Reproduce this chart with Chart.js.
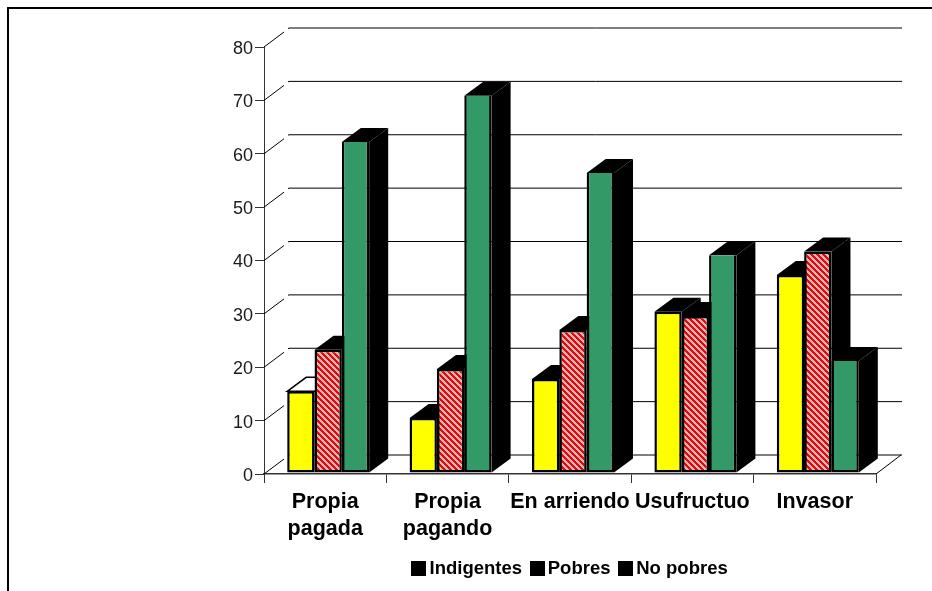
<!DOCTYPE html>
<html><head><meta charset="utf-8">
<style>html,body{margin:0;padding:0;background:#fff}canvas{display:block}</style>
<script src="https://cdn.jsdelivr.net/npm/chart.js@4"></script></head>
<body><canvas id="c" width="932" height="591" style="width:932px;height:591px"></canvas>
<script>
const categories = [["Propia","pagada"],["Propia","pagando"],"En arriendo","Usufructuo","Invasor"];
const indigentes = [15.3,10.3,17.6,30.2,37.1];
const pobres = [23.1,19.5,26.8,29.4,41.5];
const noPobres = [62,70.7,56.2,40.8,21];
const seriesNames = ["Indigentes","Pobres","No pobres"];

function hatch(){
  const s=document.createElement('canvas');s.width=6;s.height=6;
  const g=s.getContext('2d');
  g.fillStyle='#c0c0c0';g.fillRect(0,0,6,6);
  g.fillStyle='#ff0000';
  for(let y=0;y<6;y++){for(let k=0;k<3;k++){g.fillRect((y+k)%6,y,1,1);}}
  return g.createPattern(s,'repeat');
}
function swatch(){
  const s=document.createElement('canvas');s.width=15;s.height=15;
  const g=s.getContext('2d');g.fillStyle='#000';g.fillRect(0,0,15,15);
  return s;
}
const pat=hatch(), box=swatch();
const BAR_DX=3,BAR_DY=-1,DEPTH_X=19,DEPTH_Y=-14,WALL_X=25,WALL_Y=-19;

const scene={
  id:'scene',
  afterLayout(ch){
    const l=ch.legend;
    if(l){const shift=572.5-(l.left+l.right)/2; l.left+=shift; l.right+=shift; l.top-=3; l.bottom-=3;}
  },
  beforeDraw(ch){
    const c=ch.ctx;c.save();
    c.strokeStyle='#000';c.lineWidth=2;
    c.beginPath();c.moveTo(8,591);c.lineTo(8,8);c.lineTo(932,8);c.stroke();
    c.restore();
  },
  beforeDatasetsDraw(ch){
    const c=ch.ctx,y=ch.scales.y,a=ch.chartArea;
    c.save();c.strokeStyle='#000';c.lineWidth=1;
    y.ticks.forEach(t=>{
      const p=y.getPixelForValue(t.value);
      c.beginPath();c.moveTo(a.left,p);c.lineTo(a.left+WALL_X-5,p+WALL_Y+4);c.stroke();
      c.beginPath();c.moveTo(a.left+WALL_X-1,p+WALL_Y+0.5);c.lineTo(a.left+WALL_X,p+WALL_Y);c.lineTo(a.right+WALL_X+1,p+WALL_Y);c.stroke();
    });
    const p0=y.getPixelForValue(0);
    c.beginPath();c.moveTo(a.right,p0);c.lineTo(a.right+WALL_X,p0+WALL_Y);c.stroke();
    c.restore();
    c.save();c.translate(BAR_DX,BAR_DY);
    ch.data.labels.forEach((_,i)=>{
      ch.data.datasets.forEach((_d,k)=>{
        const {x,y:top,base,width}=ch.getDatasetMeta(k).data[i].getProps(['x','y','base','width'],true);
        const r=x+width/2,l=x-width/2;
        c.fillStyle='#000';
        c.beginPath();c.moveTo(r,base);c.lineTo(r+DEPTH_X,base+DEPTH_Y);c.lineTo(r+DEPTH_X,top+DEPTH_Y);c.lineTo(r,top);c.closePath();c.fill();
        c.beginPath();c.moveTo(l,top);c.lineTo(l+DEPTH_X,top+DEPTH_Y);c.lineTo(r+DEPTH_X,top+DEPTH_Y);c.lineTo(r,top);c.closePath();
        if(k===0&&i===0){c.fillStyle='#fff';c.strokeStyle='#000';c.lineWidth=1.5;c.fill();c.stroke();}
        else c.fill();
      });
    });
  },
  afterDatasetsDraw(ch){ch.ctx.restore();}
};

new Chart(document.getElementById('c'),{
  type:'bar',
  data:{labels:categories,datasets:[
    {label:seriesNames[0],data:indigentes,backgroundColor:'#ffff00',borderColor:'#000',borderWidth:2.5,borderSkipped:false},
    {label:seriesNames[1],data:pobres,backgroundColor:pat,borderColor:'#000',borderWidth:2.5,borderSkipped:false},
    {label:seriesNames[2],data:noPobres,backgroundColor:'#339966',borderColor:'#000',borderWidth:2.5,borderSkipped:'top'}
  ]},
  options:{
    responsive:false,animation:false,devicePixelRatio:1,
    layout:{padding:{top:47,left:200,right:56,bottom:0}},
    plugins:{
      tooltip:{enabled:false},
      title:{display:false},
      legend:{position:'bottom',align:'center',
        labels:{
          usePointStyle:true,pointStyle:box,pointStyleWidth:3,boxHeight:15,padding:13.5,
          color:'#000',font:{family:'"Liberation Sans"',size:18.5,weight:'bold'},
          generateLabels(ch){return ch.data.datasets.map((d,i)=>({text:d.label,fillStyle:'#000',strokeStyle:'#000',lineWidth:0,pointStyle:box,datasetIndex:i}));}
        }}
    },
    scales:{
      x:{type:'category',offset:true,stacked:false,
        afterFit(s){s.height=75;},
        border:{color:'#333',width:1.5},
        grid:{display:true,drawOnChartArea:false,drawTicks:true,tickLength:9,offset:true,color:'#333'},
        ticks:{autoSkip:false,maxRotation:0,minRotation:0,padding:6,color:'#000',font:{family:'"Liberation Sans"',size:21.5,weight:'bold',lineHeight:1.25}}
      },
      y:{min:0,max:80,
        afterFit(s){s.width=64;},
        border:{color:'#333',width:1},
        grid:{display:true,drawOnChartArea:false,drawTicks:true,tickLength:9,color:'#333'},
        ticks:{stepSize:10,padding:2,labelOffset:2,color:'#1a1a1a',font:{family:'"Liberation Sans"',size:18}}
      }
    },
    datasets:{bar:{categoryPercentage:0.67,barPercentage:1}}
  },
  plugins:[scene]
});
</script></body></html>
